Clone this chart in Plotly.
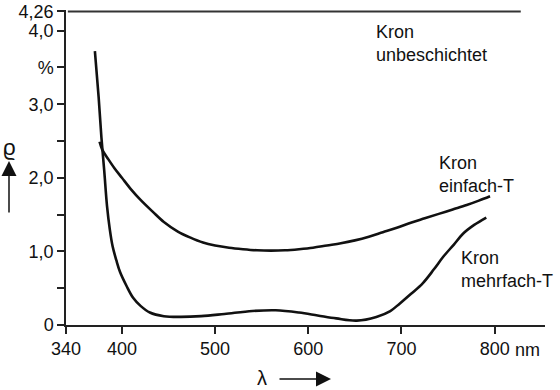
import plotly.graph_objects as go

# ---- data ----
unb_lambda = [342, 828]
unb_rho = [4.26, 4.26]

einfach_lambda = [376, 379, 385, 392, 400, 410, 420, 433, 445, 460, 473, 487, 500, 515, 530, 545, 560, 575,
                  590, 605, 620, 635, 650, 665, 680, 695, 710, 725, 740, 755, 770, 783, 795]
einfach_rho = [2.49, 2.38, 2.26, 2.13, 2.00, 1.84, 1.70, 1.54, 1.40, 1.27, 1.19, 1.12, 1.08, 1.05, 1.03, 1.015, 1.01, 1.015,
               1.03, 1.05, 1.08, 1.11, 1.15, 1.20, 1.26, 1.32, 1.39, 1.45, 1.51, 1.57, 1.63, 1.69, 1.75]

mehrfach_lambda = [371, 375, 378, 381, 384, 387, 390, 394, 398, 405, 412, 420, 430, 445, 462, 485, 510, 540, 565,
                   590, 610, 630, 652, 673, 688, 698, 710, 723, 735, 745, 756, 766, 778, 791]
mehrfach_rho = [3.72, 3.10, 2.55, 2.10, 1.62, 1.30, 1.07, 0.88, 0.72, 0.53, 0.37, 0.26, 0.17, 0.12, 0.11, 0.12, 0.15, 0.19, 0.20,
                0.17, 0.13, 0.09, 0.06, 0.11, 0.19, 0.29, 0.42, 0.57, 0.76, 0.93, 1.09, 1.24, 1.36, 1.46]

x_tickvals = [340, 400, 500, 600, 700, 800]
x_ticktext = ["340", "400", "500", "600", "700", "800"]
y_tickvals = [0, 0.5, 1, 1.5, 2, 2.5, 3, 3.5, 4, 4.26]
y_ticktext = ["0", "", "1,0", "", "2,0", "", "3,0", "%", "4,0", "4,26"]

FONT = "Liberation Sans, Arial, sans-serif"
W, H = 560, 390
ML, MR, MT, MB = 66, 15, 10, 65

def px2paper(px, py):
    return (px - ML) / (W - ML - MR), (H - MB - py) / (H - MT - MB)

fig = go.Figure()
fig.add_trace(go.Scatter(x=unb_lambda, y=unb_rho, mode="lines",
                         line=dict(color="#333333", width=2), cliponaxis=False, showlegend=False))
fig.add_trace(go.Scatter(x=einfach_lambda, y=einfach_rho, mode="lines", line_shape="spline",
                         line=dict(color="#111111", width=2.6), cliponaxis=False, showlegend=False))
fig.add_trace(go.Scatter(x=mehrfach_lambda, y=mehrfach_rho, mode="lines", line_shape="spline",
                         line=dict(color="#111111", width=2.6), cliponaxis=False, showlegend=False))

annotations = []
# curve labels
annotations.append(dict(x=671, y=3.83, xref="x", yref="y", text="Kron<br>unbeschichtet",
                        xanchor="left", yanchor="middle", align="left", showarrow=False))
annotations.append(dict(x=738, y=2.04, xref="x", yref="y", text="Kron<br>einfach-T",
                        xanchor="left", yanchor="middle", align="left", showarrow=False))
annotations.append(dict(x=762, y=0.75, xref="x", yref="y", text="Kron<br>mehrfach-T",
                        xanchor="left", yanchor="middle", align="left", showarrow=False))

# "nm" unit next to 800
nx, ny = px2paper(513, 350)
annotations.append(dict(x=nx, y=ny, xref="paper", yref="paper", text="nm",
                        xanchor="left", yanchor="middle", showarrow=False))
# lambda and arrow
lx, ly = px2paper(262, 378)
annotations.append(dict(x=lx, y=ly, xref="paper", yref="paper", text="λ",
                        xanchor="center", yanchor="middle", showarrow=False, font=dict(size=20)))
ax_, ay_ = px2paper(331, 379)
annotations.append(dict(x=ax_, y=ay_, xref="paper", yref="paper", text="", showarrow=True,
                        ax=-53, ay=0, arrowhead=2, arrowsize=2.0, arrowwidth=1.5, arrowcolor="#111111"))
# rho and arrow
rx, ry = px2paper(9, 147)
annotations.append(dict(x=rx, y=ry, xref="paper", yref="paper", text="ϱ",
                        xanchor="center", yanchor="middle", showarrow=False, font=dict(size=22)))
hx, hy = px2paper(9, 161)
annotations.append(dict(x=hx, y=hy, xref="paper", yref="paper", text="", showarrow=True,
                        ax=0, ay=53, arrowhead=2, arrowsize=2.0, arrowwidth=1.5, arrowcolor="#111111"))

fig.update_layout(
    width=W, height=H,
    margin=dict(l=ML, r=MR, t=MT, b=MB, autoexpand=False),
    paper_bgcolor="white", plot_bgcolor="white",
    font=dict(family=FONT, size=18, color="#111111"),
    annotations=annotations,
    xaxis=dict(range=[340, 854], tickvals=x_tickvals, ticktext=x_ticktext, automargin=False,
               showline=True, linecolor="#222222", linewidth=1.5, ticks="outside",
               ticklen=7, tickwidth=1.5, tickcolor="#222222", showgrid=False, zeroline=False,
               tickfont=dict(family=FONT, size=18, color="#111111")),
    yaxis=dict(range=[0, 4.28], tickvals=y_tickvals, ticktext=y_ticktext, automargin=False,
               showline=True, linecolor="#222222", linewidth=1.5, ticks="outside",
               ticklen=7, tickwidth=1.5, tickcolor="#222222", showgrid=False, zeroline=False,
               tickfont=dict(family=FONT, size=18, color="#111111")),
)

fig.write_html("out.html", config={"displayModeBar": False},
               post_script="document.body.style.margin='0';document.body.style.overflow='hidden';")
